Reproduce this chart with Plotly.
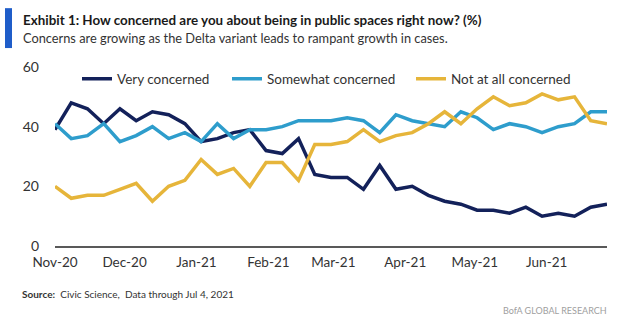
import pandas as pd
import plotly.graph_objects as go

# Weekly survey waves, Nov 1 2020 - Jun 27 2021
weeks = pd.date_range("2020-11-01", periods=35, freq="7D")

very_concerned = [39, 48, 46, 41, 46, 42, 45, 44, 41, 35, 36, 38, 39, 32, 31, 36, 24, 23,
                  23, 19, 27, 19, 20, 17, 15, 14, 12, 12, 11, 13, 10, 11, 10, 13, 14]
somewhat_concerned = [41, 36, 37, 41, 35, 37, 40, 36, 38, 35, 41, 36, 39, 39, 40, 42, 42, 42,
                      43, 42, 38, 44, 42, 41, 40, 45, 43, 39, 41, 40, 38, 40, 41, 45, 45]
not_concerned = [20, 16, 17, 17, 19, 21, 15, 20, 22, 29, 24, 26, 20, 28, 28, 22, 34, 34,
                 35, 39, 35, 37, 38, 41, 45, 41, 46, 50, 47, 48, 51, 49, 50, 42, 41]

series_names = ["Very concerned", "Somewhat concerned", "Not at all concerned"]
series_colors = ["#13215A", "#2E9DCC", "#E6B53A"]
y_ticks = [0, 20, 40, 60]

FONT = "Lato, sans-serif"

W, H = 625, 322
L, R, T, B = 55, 18, 67, 75.5
PW, PH = W - L - R, H - T - B


def px_x(x):
    return (x - L) / PW


def px_y(y):
    return (H - B - y) / PH


fig = go.Figure()
legend_ids = ["legend", "legend2", "legend3"]
for name, vals, color, lg in zip(series_names,
                                 [very_concerned, somewhat_concerned, not_concerned],
                                 series_colors, legend_ids):
    fig.add_trace(go.Scatter(
        x=weeks, y=vals, name=name, mode="lines",
        line=dict(color=color, width=3.5),
        legend=lg,
    ))

legend_style = dict(
    orientation="h", xanchor="left", yanchor="middle",
    bgcolor="rgba(0,0,0,0)", borderwidth=0,
    font=dict(family=FONT, size=13.5, color="#333333"),
    y=px_y(79),
)
fig.update_layout(
    legend=dict(legend_style, x=px_x(77)),
    legend2=dict(legend_style, x=px_x(227)),
    legend3=dict(legend_style, x=px_x(411)),
)

fig.update_layout(
    width=W, height=H,
    margin=dict(l=L, r=R, t=T, b=B, pad=0),
    paper_bgcolor="white", plot_bgcolor="white",
    showlegend=True,
    xaxis=dict(
        range=[weeks[0], weeks[-1]],
        tickformat="%b-%y", dtick="M1", tick0="2020-11-01",
        showgrid=False, zeroline=False,
        showline=True, linecolor="#595959", linewidth=2,
        ticks="outside", ticklen=3, tickcolor="rgba(0,0,0,0)",
        tickfont=dict(family=FONT, size=13.5, color="#333333"),
    ),
    yaxis=dict(
        range=[0, 60], tickvals=y_ticks,
        showgrid=False, zeroline=False, showline=False,
        ticks="", ticklabelstandoff=15,
        tickfont=dict(family=FONT, size=14, color="#333333"),
    ),
)

# Blue accent bar beside the heading
fig.add_shape(type="rect", xref="paper", yref="paper",
              x0=px_x(5), x1=px_x(12), y0=px_y(48), y1=px_y(8),
              fillcolor="#1F5DC9", line=dict(width=0))

fig.add_annotation(
    text="<b>Exhibit 1: How concerned are you about being in public spaces right now? (%)</b>",
    xref="paper", yref="paper", x=px_x(21), y=px_y(20),
    xanchor="left", yanchor="middle", showarrow=False,
    font=dict(family=FONT, size=13.4, color="#1a1a1a"),
)
fig.add_annotation(
    text="Concerns are growing as the Delta variant leads to rampant growth in cases.",
    xref="paper", yref="paper", x=px_x(21), y=px_y(38),
    xanchor="left", yanchor="middle", showarrow=False,
    font=dict(family=FONT, size=12.8, color="#333333"),
)
fig.add_annotation(
    text="<b>Source:</b>  Civic Science,  Data through Jul 4, 2021",
    xref="paper", yref="paper", x=px_x(20), y=px_y(295),
    xanchor="left", yanchor="middle", showarrow=False,
    font=dict(family=FONT, size=10, color="#333333"),
)
fig.add_annotation(
    text="BofA GLOBAL RESEARCH",
    xref="paper", yref="paper", x=px_x(609), y=px_y(311),
    xanchor="right", yanchor="middle", showarrow=False,
    font=dict(family=FONT, size=9, color="#a0a0a0"),
)

fig.write_html("out.html")
